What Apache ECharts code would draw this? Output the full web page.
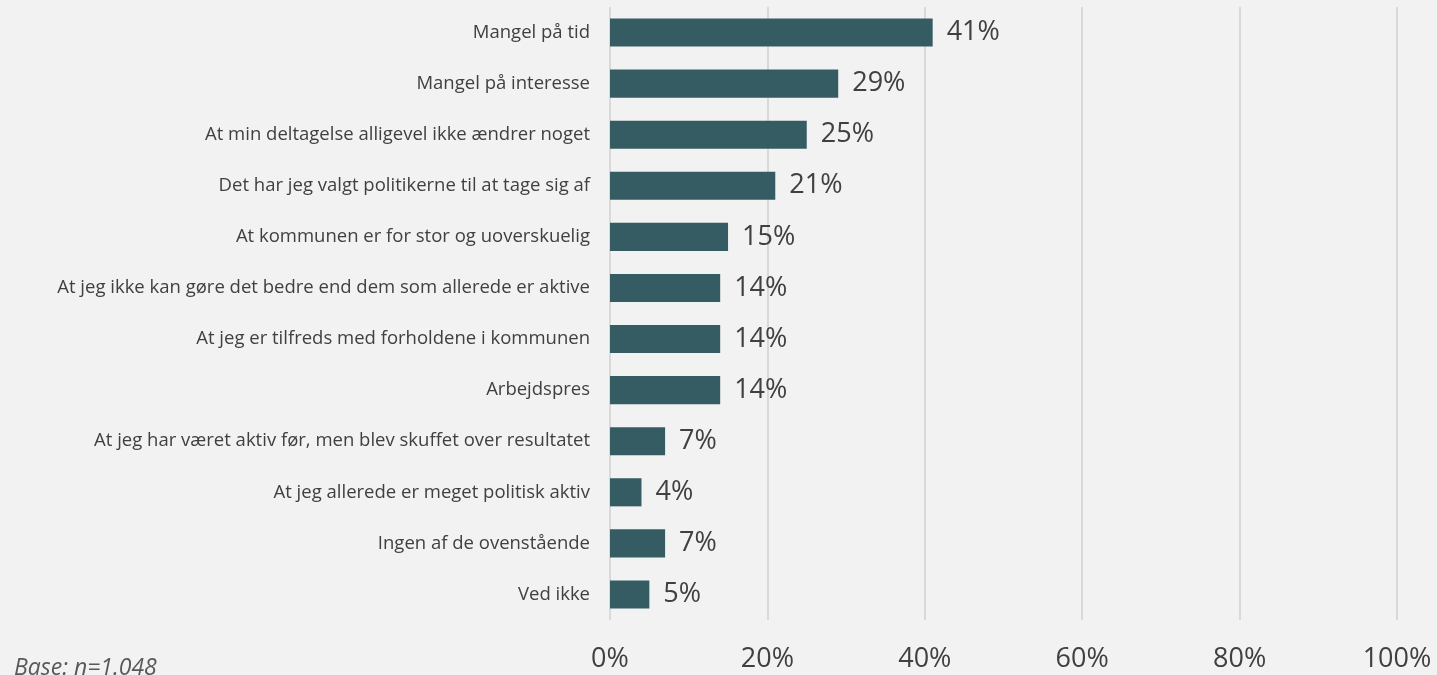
<!DOCTYPE html>
<html>
<head>
<meta charset="utf-8">
<script src="https://cdn.jsdelivr.net/npm/echarts@6/dist/echarts.min.js"></script>
<style>
html, body { margin: 0; padding: 0; background: #f2f2f2; }
#main { width: 1437px; height: 675px; }
</style>
</head>
<body>
<div id="main"></div>
<script>
// kategorier (top til bund)
var categories = [
    'Mangel på tid',
    'Mangel på interesse',
    'At min deltagelse alligevel ikke ændrer noget',
    'Det har jeg valgt politikerne til at tage sig af',
    'At kommunen er for stor og uoverskuelig',
    'At jeg ikke kan gøre det bedre end dem som allerede er aktive',
    'At jeg er tilfreds med forholdene i kommunen',
    'Arbejdspres',
    'At jeg har været aktiv før, men blev skuffet over resultatet',
    'At jeg allerede er meget politisk aktiv',
    'Ingen af de ovenstående',
    'Ved ikke'
];
var values = [41, 29, 25, 21, 15, 14, 14, 14, 7, 4, 7, 5];
var baseText = 'Base: n=1.048';

var myChart = echarts.init(document.getElementById('main'));

var option = {
    backgroundColor: '#f2f2f2',
    animation: false,
    textStyle: { fontFamily: 'Open Sans' },
    grid: {
        left: 610,
        right: 40,
        top: 7,
        bottom: 55
    },
    xAxis: {
        type: 'value',
        min: 0,
        max: 100,
        interval: 20,
        axisLine: { show: false },
        axisTick: { show: false },
        axisLabel: {
            formatter: '{value}%',
            fontSize: 27,
            color: '#404040',
            margin: 26
        },
        splitLine: { lineStyle: { color: '#d9d9d9', width: 2 } }
    },
    yAxis: {
        type: 'category',
        inverse: true,
        data: categories,
        axisLine: { show: false },
        axisTick: { show: false },
        axisLabel: {
            fontSize: 18.5,
            color: '#404040',
            margin: 20
        }
    },
    graphic: [{
        type: 'text',
        left: 14,
        top: 657,
        style: {
            text: baseText,
            fontSize: 23,
            fontStyle: 'italic',
            fill: '#595959',
            fontFamily: 'Open Sans'
        }
    }],
    series: [{
        type: 'bar',
        data: values,
        barCategoryGap: '45%',
        itemStyle: { color: '#365c63' },
        label: {
            show: true,
            position: 'right',
            distance: 14,
            formatter: '{c}%',
            fontSize: 27,
            color: '#404040'
        }
    }]
};

myChart.setOption(option);
</script>
</body>
</html>
